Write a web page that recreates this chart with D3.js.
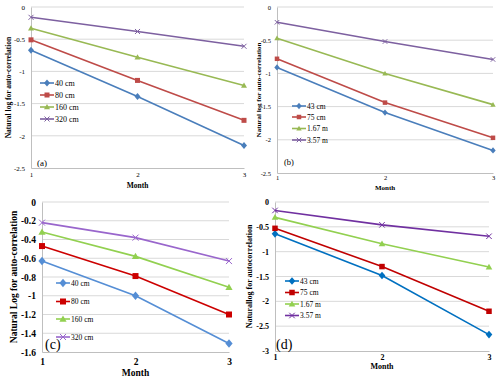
<!DOCTYPE html>
<html>
<head>
<meta charset="utf-8">
<script src="https://cdn.jsdelivr.net/npm/d3@7"></script>
<style>
  body{margin:0;background:#fff;}
  svg{display:block;}
  svg text{font-family:"Liberation Serif","Times New Roman",serif;}
</style>
</head>
<body>
<div id="chart"></div>
<script>
const months=[1,2,3];

// panel (a)
const aNames=["40 cm","80 cm","160 cm","320 cm"];
const aValues=[[-0.67,-1.39,-2.15],[-0.51,-1.14,-1.76],[-0.33,-0.78,-1.22],[-0.16,-0.38,-0.61]];
const aTicks=[0,-0.5,-1,-1.5,-2,-2.5];

// panel (b)
const bNames=["43 cm","75 cm","1.67 m","3.57 m"];
const bValues=[[-0.91,-1.59,-2.16],[-0.78,-1.44,-1.97],[-0.47,-1.0,-1.47],[-0.23,-0.52,-0.79]];
const bTicks=[0,-0.5,-1,-1.5,-2,-2.5];

// panel (c)
const cNames=["40 cm","80 cm","160 cm","320 cm"];
const cValues=[[-0.63,-1.0,-1.51],[-0.47,-0.79,-1.2],[-0.32,-0.58,-0.91],[-0.22,-0.38,-0.63]];
const cTicks=[0,-0.2,-0.4,-0.6,-0.8,-1,-1.2,-1.4,-1.6];

// panel (d)
const dNames=["43 cm","75 cm","1.67 m","3.57 m"];
const dValues=[[-0.64,-1.48,-2.67],[-0.53,-1.3,-2.2],[-0.31,-0.84,-1.31],[-0.17,-0.46,-0.69]];
const dTicks=[0,-0.5,-1,-1.5,-2,-2.5,-3];

const w=500,h=381;
const FONT="Liberation Serif";
const svg=d3.select("#chart").append("svg").attr("width",w).attr("height",h)
  .attr("font-family",FONT);

const excelColors=["#4a7ebb","#be4b48","#98b954","#7d60a0"];
const brightColors=["#0070c0","#c00000","#92d050","#7030a0"];
const cColors=["#558ed5","#cc0000","#92d050","#9966cc"];

const panels=[
  {names:aNames,values:aValues,ticks:aTicks,colors:excelColors,label:"(a)",
   title:"Natural log for auto-correlation",left:31,right:244,top:7,bottom:168,
   tickSize:7,tickBold:false,titleSize:7.5,titleX:8,monthY:188,xTickY:177,
   legX:40,legY:[83,95,107,119],legSize:8,labX:37,labY:166,labSize:9,marker:5},
  {names:bNames,values:bValues,ticks:bTicks,colors:excelColors,label:"(b)",
   title:"Natural log for auto-correlation",left:277,right:493,top:7,bottom:173,
   tickSize:6.5,tickBold:false,titleSize:7,titleX:259,monthY:190,xTickY:180,
   legX:292,legY:[106,117,128.5,140],legSize:7.5,labX:284,labY:165,labSize:8.5,marker:4.5},
  {names:cNames,values:cValues,ticks:cTicks,colors:cColors,label:"(c)",
   title:"Natural Log for auto-correlation",left:42,right:229,top:202,bottom:352,
   tickSize:9.5,tickBold:true,titleSize:9.5,titleX:14,monthY:376,xTickY:365,
   legX:56,legY:[283,301.5,319,337],legSize:7.5,labX:45,labY:349,labSize:14,marker:6},
  {names:dNames,values:dValues,ticks:dTicks,colors:brightColors,label:"(d)",
   title:"Naturallog for autocorrelation",left:275,right:489,top:202,bottom:351,
   tickSize:8,tickBold:true,titleSize:8,titleX:249,monthY:369,xTickY:360,
   legX:285,legY:[281,292.5,304,315.5],legSize:7.5,labX:276,labY:349,labSize:14,marker:5.5}
];

function drawMarker(g,type,x,y,s,color){
  if(type===0){
    g.append("path").attr("d",`M${x},${y-s*0.7}L${x+s*0.6},${y}L${x},${y+s*0.7}L${x-s*0.6},${y}Z`).attr("fill",color);
  }else if(type===1){
    g.append("rect").attr("x",x-s/2).attr("y",y-s/2).attr("width",s).attr("height",s).attr("fill",color);
  }else if(type===2){
    g.append("path").attr("d",`M${x},${y-s*0.6}L${x+s*0.6},${y+s*0.45}L${x-s*0.6},${y+s*0.45}Z`).attr("fill",color);
  }else{
    const r=s*0.5;
    g.append("path").attr("d",`M${x-r},${y-r}L${x+r},${y+r}M${x-r},${y+r}L${x+r},${y-r}`)
     .attr("stroke",color).attr("stroke-width",1).attr("fill","none");
  }
}

panels.forEach(p=>{
  const g=svg.append("g");
  const xScale=d3.scaleLinear().domain([1,3]).range([p.left,p.right]);
  const yScale=d3.scaleLinear().domain([d3.min(p.ticks),0]).range([p.bottom,p.top]);

  // gridlines
  g.selectAll("line.grid").data(p.ticks.filter(t=>t!==d3.min(p.ticks))).enter().append("line")
   .attr("x1",p.left).attr("x2",p.right).attr("y1",d=>yScale(d)).attr("y2",d=>yScale(d))
   .attr("stroke","#d9d9d9").attr("stroke-width",1);

  const yAxis=d3.axisLeft(yScale).tickValues(p.ticks).tickSize(0).tickPadding(6)
    .tickFormat(d=>String(+d.toFixed(1)));
  const ya=g.append("g").attr("transform",`translate(${p.left},0)`).call(yAxis)
    .attr("font-family",FONT);
  ya.select(".domain").attr("stroke","#bfbfbf");
  ya.selectAll("text").attr("font-size",p.tickSize).attr("font-weight",p.tickBold?"bold":"normal");

  const xAxis=d3.axisBottom(xScale).tickValues(months).tickSize(0).tickFormat(d3.format("d"));
  const xa=g.append("g").attr("transform",`translate(0,${p.bottom})`).call(xAxis)
    .attr("font-family",FONT);
  xa.select(".domain").attr("stroke","#bfbfbf");
  xa.selectAll("text").attr("y",p.xTickY-p.bottom).attr("dy",0)
    .attr("font-size",p.tickSize).attr("font-weight",p.tickBold?"bold":"normal");

  g.append("text").text("Month").attr("x",(p.left+p.right)/2).attr("y",p.monthY)
   .attr("text-anchor","middle").attr("font-weight","bold").attr("font-size",p.titleSize);

  g.append("text").text(p.title).attr("transform","rotate(-90)")
   .attr("x",-(p.top+p.bottom)/2).attr("y",p.titleX).attr("dy","0.35em")
   .attr("text-anchor","middle").attr("font-weight","bold").attr("font-size",p.titleSize);

  const line=d3.line().x((d,i)=>xScale(months[i])).y(d=>yScale(d));
  p.values.forEach((vals,k)=>{
    g.append("path").datum(vals).attr("d",line).attr("fill","none")
     .attr("stroke",p.colors[k]).attr("stroke-width",1.6);
    vals.forEach((v,i)=>drawMarker(g,k,xScale(months[i]),yScale(v),p.marker,p.colors[k]));
  });

  // legend
  p.names.forEach((n,k)=>{
    const y=p.legY[k];
    g.append("line").attr("x1",p.legX).attr("x2",p.legX+14).attr("y1",y).attr("y2",y)
     .attr("stroke",p.colors[k]).attr("stroke-width",1.6);
    drawMarker(g,k,p.legX+7,y,p.marker,p.colors[k]);
    g.append("text").text(n).attr("x",p.legX+15).attr("y",y).attr("dy","0.35em")
     .attr("font-size",p.legSize);
  });

  g.append("text").text(p.label).attr("x",p.labX).attr("y",p.labY).attr("font-size",p.labSize);
});
</script>
</body>
</html>
